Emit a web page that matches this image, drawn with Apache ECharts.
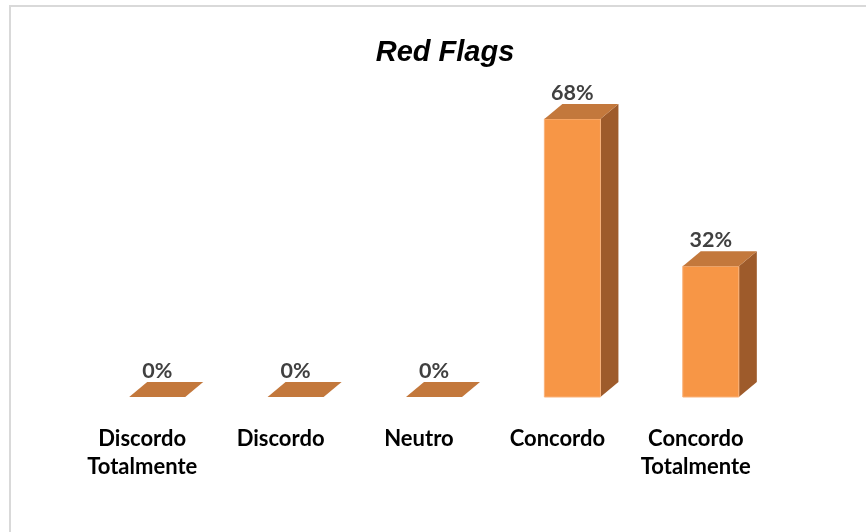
<!DOCTYPE html>
<html><head><meta charset="utf-8">
<script src="https://cdn.jsdelivr.net/npm/echarts@6/dist/echarts.min.js"></script>
<style>html,body{margin:0;padding:0;background:#fff}#c{width:866px;height:532px}</style>
</head><body><div id="c"></div>
<script>
const titleText = 'Red Flags';
const categories = ['Discordo\nTotalmente', 'Discordo', 'Neutro', 'Concordo', 'Concordo\nTotalmente'];
const values = [0, 0, 0, 68, 32];
const valueLabels = ['0%', '0%', '0%', '68%', '32%'];

const chart = echarts.init(document.getElementById('c'));
const DX = 18, DY = 15;
const option = {
  backgroundColor: '#fff',
  animation: false,
  graphic: [
    {type: 'rect', shape: {x: 10, y: 6, width: 900, height: 600}, style: {fill: 'none', stroke: '#d9d9d9', lineWidth: 2}, z: 0},
    {type: 'text', x: 445, y: 53, style: {text: titleText, fill: '#000', font: 'italic bold 29px "Liberation Sans", Arial, sans-serif', align: 'center', verticalAlign: 'middle'}}
  ],
  grid: {left: 88, right: 86, top: 70, bottom: 135},
  xAxis: {type: 'category', data: categories, show: false},
  yAxis: {type: 'value', min: 0, max: 80, show: false},
  series: [{
    type: 'custom',
    data: values.map((v, i) => [i, v]),
    renderItem: function (params, api) {
      const i = api.value(0), v = api.value(1);
      const base = api.coord([i, 0]);
      const top = api.coord([i, v]);
      const bw = api.size([1, 0])[0] * 0.405;
      const xl = base[0] - bw / 2, xr = base[0] + bw / 2, yb = base[1], yt = top[1];
      const children = [];
      if (yb - yt > 0.5) {
        children.push({type: 'polygon', shape: {points: [[xr, yb], [xr + DX, yb - DY], [xr + DX, yt - DY], [xr, yt]]}, style: {fill: '#9E5B2B'}});
        children.push({type: 'rect', shape: {x: xl, y: yt, width: bw, height: yb - yt}, style: {fill: '#F79646', stroke: '#F9B27A', lineWidth: 1}});
      }
      children.push({type: 'polygon', shape: {points: [[xl, yt], [xr, yt], [xr + DX, yt - DY], [xl + DX, yt - DY]]}, style: {fill: '#C3783C'}});
      children.push({type: 'text', x: base[0], y: yt - DY - 11, style: {text: valueLabels[params.dataIndex], fill: '#404040', font: 'bold 21.5px Lato, "Open Sans", sans-serif', align: 'center', verticalAlign: 'middle'}});
      children.push({type: 'text', x: base[0] - 15, y: 425, style: {text: categories[params.dataIndex], fill: '#000', font: 'bold 22px Lato, "Open Sans", sans-serif', align: 'center', verticalAlign: 'top', lineHeight: 28}});
      return {type: 'group', children: children};
    }
  }]
};
chart.setOption(option);
</script></body></html>
